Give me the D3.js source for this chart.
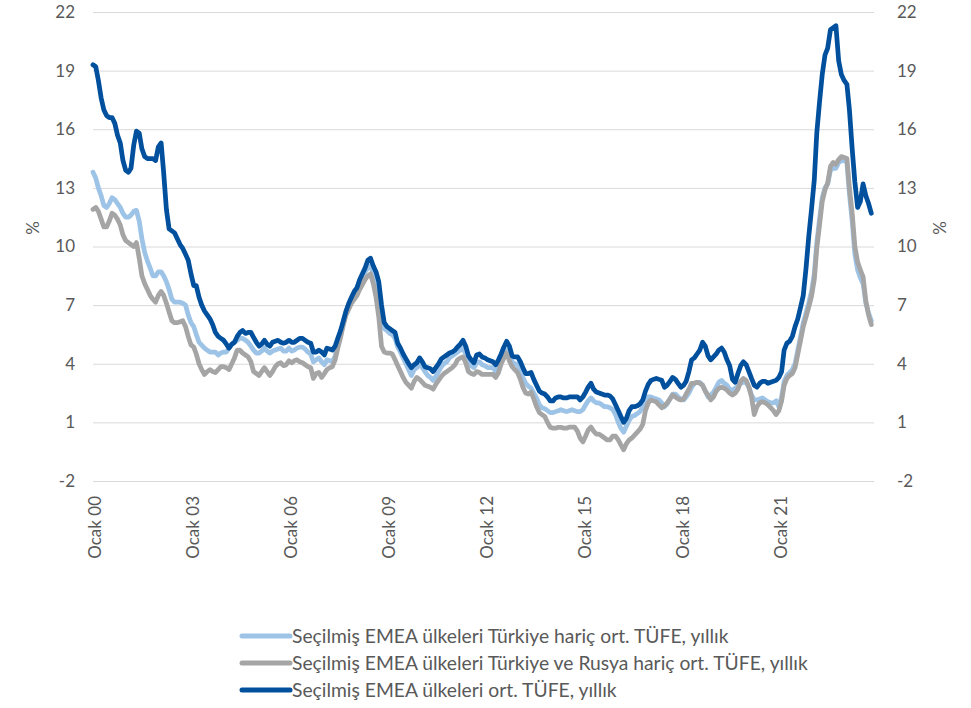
<!DOCTYPE html>
<html>
<head>
<meta charset="utf-8">
<script src="https://cdn.jsdelivr.net/npm/d3@7"></script>
<style>
  html, body { margin: 0; padding: 0; background: #ffffff; }
  svg { display: block; }
  text { font-family: "Lato", "Open Sans", sans-serif; fill: #595959; }
</style>
</head>
<body>
<svg id="chart" width="971" height="708"></svg>
<script>
// ---------- DATA (monthly, Jan 2000 – Nov 2023) ----------
const startMonth = "2000-01";
const yTicks = [-2, 1, 4, 7, 10, 13, 16, 19, 22];
const xTickYears = [2000, 2003, 2006, 2009, 2012, 2015, 2018, 2021];
const xTickLabels = ["Ocak 00", "Ocak 03", "Ocak 06", "Ocak 09", "Ocak 12", "Ocak 15", "Ocak 18", "Ocak 21"];
const seriesNames = [
  "Seçilmiş EMEA ülkeleri Türkiye hariç ort. TÜFE, yıllık",
  "Seçilmiş EMEA ülkeleri Türkiye ve Rusya hariç ort. TÜFE, yıllık",
  "Seçilmiş EMEA ülkeleri ort. TÜFE, yıllık"
];

// Seçilmiş EMEA ülkeleri Türkiye hariç ort. TÜFE
const exTurkey = [
  13.8, 13.5, 13.0, 12.6, 12.1, 12.0, 12.2, 12.5, 12.4, 12.2, 12.0, 11.7,
  11.5, 11.5, 11.6, 11.8, 11.85, 11.3, 10.4, 9.7, 9.25, 8.9, 8.5, 8.5,
  8.7, 8.7, 8.5, 8.2, 7.8, 7.3, 7.15, 7.15, 7.15, 7.1, 7.0, 6.5,
  6.1, 5.9, 5.5, 5.1, 4.95, 4.8, 4.7, 4.6, 4.6, 4.6, 4.45, 4.55,
  4.6, 4.6, 4.8, 5.0, 5.1, 5.2, 5.3, 5.3, 5.2, 5.1, 4.9, 4.7,
  4.55, 4.55, 4.65, 4.8, 4.65, 4.55, 4.65, 4.7, 4.75, 4.8, 4.65, 4.65,
  4.8, 4.65, 4.7, 4.8, 4.85, 4.85, 4.75, 4.6, 4.5, 4.1, 4.2, 4.3,
  4.1, 3.95, 4.2, 4.15, 4.1, 4.4, 5.0, 5.5, 6.0, 6.6, 7.0, 7.25,
  7.55, 7.8, 8.1, 8.4, 8.7, 8.9, 9.0, 8.65, 8.3, 7.5, 6.5, 5.8,
  5.7, 5.55, 5.5, 5.3, 4.86, 4.6, 4.3, 4.0, 3.7, 3.4, 3.7, 3.8,
  3.95, 3.8, 3.6, 3.4, 3.3, 3.15, 3.35, 3.6, 3.85, 4.0, 4.1, 4.3,
  4.4, 4.5, 4.6, 4.7, 4.8, 4.5, 4.0, 3.9, 3.8, 4.05, 4.1, 3.95,
  3.9, 3.8, 3.8, 3.8, 3.6, 3.8, 4.2, 4.55, 4.7, 4.45, 4.1, 4.0,
  3.95, 3.6, 3.3, 3.0, 2.85, 2.75, 2.5, 2.25, 1.9, 1.75, 1.7, 1.6,
  1.5, 1.5, 1.55, 1.6, 1.65, 1.6, 1.55, 1.6, 1.65, 1.6, 1.55, 1.55,
  1.65, 1.9, 2.1, 2.25, 2.1, 2.0, 2.0, 1.9, 1.8, 1.8, 1.75, 1.65,
  1.4, 1.0, 0.7, 0.5, 0.8, 1.1, 1.3, 1.35, 1.45, 1.55, 1.8, 2.1,
  2.3, 2.3, 2.25, 2.2, 2.15, 2.0, 1.8, 1.95, 2.2, 2.45, 2.45, 2.3,
  2.2, 2.15, 2.3, 2.5, 2.8, 3.0, 3.05, 3.05, 2.9, 2.6, 2.3, 2.4,
  2.55, 2.8, 3.05, 3.15, 3.0, 2.9, 2.7, 2.65, 2.75, 2.85, 3.0, 3.05,
  3.05, 2.8, 2.4, 2.15, 2.15, 2.2, 2.25, 2.15, 2.05, 2.0, 2.0, 2.1,
  1.8, 2.3, 3.1, 3.4, 3.55, 3.7, 4.0, 4.7, 5.4, 6.1, 6.6, 7.1,
  7.7, 8.6, 10.2, 11.4, 12.5, 13.0, 13.2, 13.9, 14.0, 14.0, 14.3, 14.4,
  14.4, 14.3, 12.7, 11.3, 9.6, 8.8, 8.4, 8.1, 7.1, 6.6, 6.2
];

// Seçilmiş EMEA ülkeleri Türkiye ve Rusya hariç ort. TÜFE
const exTurkeyRussia = [
  11.9, 12.0, 11.8, 11.4, 11.0, 11.0, 11.3, 11.7, 11.6, 11.4, 11.1, 10.6,
  10.3, 10.2, 10.1, 10.0, 10.2, 9.4, 8.5, 8.1, 7.8, 7.5, 7.3, 7.15,
  7.5, 7.7, 7.5, 7.1, 6.65, 6.2, 6.1, 6.1, 6.15, 6.2, 5.9, 5.4,
  4.96, 4.85, 4.5, 4.0, 3.7, 3.45, 3.6, 3.7, 3.6, 3.55, 3.7, 3.85,
  3.85, 3.8, 3.7, 4.0, 4.3, 4.7, 4.7, 4.55, 4.45, 4.35, 4.1, 3.6,
  3.5, 3.4, 3.6, 3.8, 3.6, 3.4, 3.6, 3.85, 4.0, 4.05, 3.9, 3.95,
  4.15, 4.05, 4.15, 4.2, 4.1, 4.05, 3.95, 3.85, 3.8, 3.25, 3.5, 3.55,
  3.3, 3.5, 3.7, 3.8, 3.85, 4.2, 4.8, 5.35, 6.0, 6.5, 6.8, 7.1,
  7.3, 7.5, 7.8, 8.05, 8.3, 8.5, 8.6, 8.1, 7.4, 6.4, 4.9, 4.6,
  4.55, 4.55, 4.5, 4.2, 3.9, 3.6, 3.3, 3.05, 2.9, 2.75, 3.1, 3.3,
  3.2, 3.05, 2.9, 2.85, 2.8, 2.7, 2.95, 3.15, 3.35, 3.5, 3.6, 3.7,
  3.8, 3.95, 4.2, 4.3, 4.35, 4.05, 3.6, 3.5, 3.45, 3.6, 3.55, 3.45,
  3.45, 3.45, 3.45, 3.45, 3.3, 3.55, 4.0, 4.3, 4.55, 4.15, 3.85, 3.7,
  3.55, 3.2, 2.8, 2.5, 2.45, 2.55, 2.2, 1.8, 1.5, 1.4, 1.3, 1.0,
  0.75, 0.7, 0.7, 0.75, 0.75, 0.7, 0.7, 0.76, 0.76, 0.76, 0.55, 0.2,
  0.0, 0.3, 0.6, 0.76, 0.55, 0.4, 0.4, 0.3, 0.2, 0.1, 0.1, 0.3,
  0.3, 0.1, -0.15, -0.4, -0.1, 0.1, 0.2, 0.35, 0.5, 0.65, 0.9, 1.6,
  2.0, 2.15, 2.1, 2.05, 1.9, 1.75, 1.85, 2.0, 2.2, 2.4, 2.3, 2.2,
  2.15, 2.2, 2.45, 2.7, 3.0, 3.0, 3.05, 3.0, 2.9, 2.6, 2.4, 2.15,
  2.3, 2.6, 2.75, 2.8, 2.75, 2.65, 2.5, 2.4, 2.5, 2.7, 3.1, 3.25,
  3.15, 2.8, 2.3, 1.4, 1.8, 2.0, 2.05, 2.0, 1.9, 1.75, 1.6, 1.4,
  1.6, 2.1, 2.9, 3.25, 3.4, 3.5, 3.8, 4.5, 5.2, 5.9, 6.4, 6.9,
  7.45, 8.3, 9.9, 11.1, 12.3, 12.9, 13.25, 14.1, 14.3, 14.2, 14.45, 14.6,
  14.55, 14.5, 13.0, 11.7, 10.0, 9.2, 8.8, 8.45, 7.2, 6.5, 6.0
];

// Seçilmiş EMEA ülkeleri ort. TÜFE
const allEmea = [
  19.3, 19.2, 18.5, 17.6, 17.0, 16.7, 16.6, 16.6, 16.3, 15.7, 15.3, 14.4,
  13.9, 13.8, 14.0, 15.2, 15.9, 15.8, 15.0, 14.6, 14.5, 14.5, 14.5, 14.4,
  15.1, 15.3, 13.8, 11.9, 10.9, 10.8, 10.7, 10.4, 10.1, 9.9, 9.6, 9.3,
  8.6, 8.0, 8.0, 7.4, 7.0, 6.7, 6.5, 6.3, 6.0, 5.6, 5.4, 5.3,
  5.2, 5.0, 4.8, 5.0, 5.1, 5.4, 5.6, 5.7, 5.55, 5.6, 5.6, 5.35,
  5.1, 4.9, 5.0, 5.2, 5.0, 4.9, 5.1, 5.15, 5.2, 5.1, 5.05, 5.1,
  5.2, 5.1, 5.1, 5.2, 5.3, 5.3, 5.2, 5.1, 5.05, 4.6, 4.6, 4.7,
  4.6, 4.45, 4.8, 4.75, 4.7, 4.9, 5.3, 5.7, 6.2, 6.7, 7.1, 7.4,
  7.7, 7.9, 8.3, 8.6, 8.9, 9.3, 9.4, 9.0, 8.7, 8.2, 7.0, 6.1,
  5.9, 5.8, 5.7, 5.6, 5.05, 4.8, 4.5, 4.25, 4.0, 3.8, 3.95, 4.05,
  4.3, 4.1, 3.85, 3.8, 3.75, 3.6, 3.8, 4.0, 4.25, 4.35, 4.45, 4.55,
  4.6, 4.7, 4.86, 5.0, 5.2, 4.9, 4.4, 4.2, 4.05, 4.45, 4.5, 4.35,
  4.3, 4.2, 4.15, 4.1, 3.95, 4.2, 4.5, 4.86, 5.15, 4.9, 4.4, 4.35,
  4.35, 4.1, 3.8, 3.5, 3.5, 3.55, 3.2, 2.9, 2.6, 2.5, 2.45, 2.3,
  2.1, 2.1, 2.25, 2.3, 2.3, 2.25, 2.25, 2.3, 2.3, 2.3, 2.3, 2.15,
  2.3, 2.55, 2.8, 3.0, 2.7, 2.55, 2.5, 2.45, 2.4, 2.4, 2.35, 2.2,
  1.9, 1.6, 1.3, 1.0, 1.2, 1.6, 1.8, 1.8, 1.85, 1.95, 2.15, 2.6,
  2.95, 3.15, 3.2, 3.25, 3.2, 3.15, 2.8, 2.9, 3.1, 3.3, 3.2, 3.0,
  2.8, 2.9, 3.1, 3.6, 4.2, 4.3, 4.5, 4.7, 5.1, 4.9, 4.4, 4.2,
  4.35, 4.5, 4.7, 4.8, 4.6, 4.2, 3.9, 3.2, 3.05, 3.5, 3.9, 4.1,
  3.95, 3.6, 3.25, 2.9, 2.8, 3.0, 3.1, 3.1, 3.0, 3.05, 3.1, 3.15,
  3.3, 3.6, 4.7, 5.05, 5.15, 5.4, 5.9, 6.3, 6.9, 7.5, 8.9, 10.5,
  11.9, 13.4, 15.8, 17.4, 18.8, 19.8, 20.15, 21.1, 21.2, 21.3, 19.5, 18.8,
  18.5, 18.3, 17.0, 15.0, 13.3, 12.0, 12.3, 13.2, 12.6, 12.2, 11.7
];

const seriesColors = ["#9dc3e6", "#a5a5a5", "#00509e"];

// ---------- LAYOUT ----------
const svg = d3.select("#chart");
const plot = { left: 93, right: 874, top: 12, bottom: 481 };

const parseMonth = d3.utcParse("%Y-%m");
const t0 = parseMonth(startMonth);
const dates = d3.utcMonth.range(t0, d3.utcMonth.offset(t0, allEmea.length));
const xEnd = d3.utcMonth.offset(t0, allEmea.length);

const x = d3.scaleUtc().domain([t0, xEnd]).range([plot.left, plot.right]);
const y = d3.scaleLinear().domain([-2, 22]).range([plot.bottom, plot.top]);
const fmtTick = d => String(d); // plain hyphen for negatives, as in the reference

// gridlines
svg.append("g")
  .attr("transform", `translate(${plot.left},0)`)
  .call(d3.axisLeft(y).tickValues(yTicks).tickSize(-(plot.right - plot.left)).tickFormat(""))
  .call(g => g.select(".domain").remove())
  .call(g => g.selectAll("line").attr("stroke", "#d9d9d9").attr("stroke-width", 1));

// left axis labels
svg.append("g")
  .attr("transform", `translate(${plot.left - 18},0)`)
  .call(d3.axisLeft(y).tickValues(yTicks).tickSize(0).tickFormat(fmtTick))
  .call(g => g.select(".domain").remove())
  .call(g => g.selectAll("text").attr("font-size", 17).attr("fill", "#595959")
        .style("font-family", "Lato, 'Open Sans', sans-serif").attr("x", 0));

// right axis labels
svg.append("g")
  .attr("transform", `translate(${plot.right + 23},0)`)
  .call(d3.axisRight(y).tickValues(yTicks).tickSize(0).tickFormat(fmtTick))
  .call(g => g.select(".domain").remove())
  .call(g => g.selectAll("text").attr("font-size", 17).attr("fill", "#595959")
        .style("font-family", "Lato, 'Open Sans', sans-serif").attr("x", 0));

// x axis labels (rotated)
const xTickDates = xTickYears.map(yr => new Date(Date.UTC(yr, 0, 1)));
svg.append("g")
  .attr("transform", `translate(0,${plot.bottom})`)
  .call(d3.axisBottom(x).tickValues(xTickDates).tickSize(0)
        .tickFormat((d, i) => xTickLabels[i]))
  .call(g => g.select(".domain").remove())
  .call(g => g.selectAll("text")
        .attr("font-size", 17).attr("fill", "#595959")
        .style("font-family", "Lato, 'Open Sans', sans-serif")
        .attr("text-anchor", "end")
        .attr("transform", "rotate(-90)")
        .attr("x", -15).attr("y", 2).attr("dy", "0.35em"));

// axis titles
svg.append("text").attr("transform", "translate(39,228) rotate(-90)")
  .attr("text-anchor", "middle").attr("font-size", 17).text("%");
svg.append("text").attr("transform", "translate(946,228) rotate(-90)")
  .attr("text-anchor", "middle").attr("font-size", 17).text("%");

// lines
const allSeries = [exTurkey, exTurkeyRussia, allEmea];
const line = d3.line()
  .x((d, i) => x(dates[i]))
  .y(d => y(d));

svg.append("g").selectAll("path")
  .data(allSeries)
  .join("path")
  .attr("d", d => line(d))
  .attr("fill", "none")
  .attr("stroke", (d, i) => seriesColors[i])
  .attr("stroke-width", 4.75)
  .attr("stroke-linejoin", "round")
  .attr("stroke-linecap", "round");

// legend
const legendY = [636, 663, 690];
const legendTargetWidth = 516; // width of longest label (line 2) in reference
const lg = svg.append("g");
const items = lg.selectAll("g").data(seriesNames).join("g")
  .attr("transform", (d, i) => `translate(0,${legendY[i]})`);
items.append("line")
  .attr("x1", 242).attr("x2", 290).attr("y1", 0).attr("y2", 0)
  .attr("stroke", (d, i) => seriesColors[i])
  .attr("stroke-width", 5).attr("stroke-linecap", "round");
const labels = items.append("text")
  .attr("x", 292).attr("dy", "0.35em").attr("font-size", 17)
  .attr("fill", "#404040")
  .text(d => d);
// fit font-size so the longest label matches the reference width
const w = labels.nodes()[1].getComputedTextLength();
if (w > 0) labels.attr("font-size", 17 * legendTargetWidth / w);
</script>
</body>
</html>
